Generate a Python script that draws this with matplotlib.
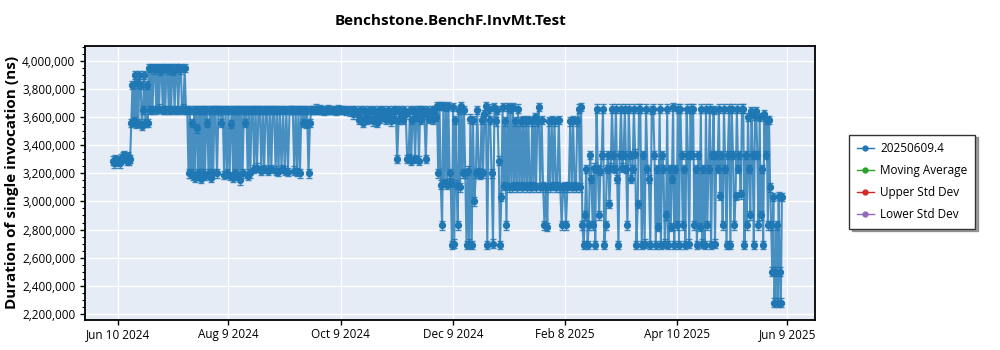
import matplotlib
matplotlib.use("Agg")
import matplotlib.pyplot as plt
import matplotlib.ticker as mticker
from matplotlib.lines import Line2D
import pandas as pd

plt.rcParams['font.family'] = ['Open Sans', 'DejaVu Sans']

title = "Benchstone.BenchF.InvMt.Test"
ylabel = "Duration of single invocation (ns)"
series_names = ["20250609.4", "Moving Average", "Upper Std Dev", "Lower Std Dev"]
series_colors = ["#1f77b4", "#2ca02c", "#d62728", "#9467bd"]
first_week = "2024-06-07"
err_ns = 30000
x_ticks = ["2024-06-10", "2024-08-09", "2024-10-09", "2024-12-09",
           "2025-02-08", "2025-04-10", "2025-06-09"]
x_tick_labels = ["Jun 10 2024", "Aug 9 2024", "Oct 9 2024", "Dec 9 2024",
                 "Feb 8 2025", "Apr 10 2025", "Jun 9 2025"]
y_ticks = [2200000, 2400000, 2600000, 2800000, 3000000, 3200000,
           3400000, 3600000, 3800000, 4000000]

# values in thousands of ns, one list per week starting at first_week
weekly_values_k = [
    [3290, 3270, 3300, 3280, 3290, 3270, 3310, 3320, 3330],
    [3300, 3290, 3320, 3290, 3300, 3560, 3830, 3570, 3900, 3550, 3840],
    [3560, 3900, 3830, 3540, 3650, 3900, 3560, 3830, 3560, 3950, 3650],
    [3950, 3650, 3940, 3950, 3650, 3950, 3660, 3930, 3950, 3650],
    [3950, 3650, 3950, 3940, 3650, 3950, 3650, 3950, 3930, 3650, 3950],
    [3950, 3650, 3940, 3950, 3650, 3660, 3950, 3650, 3650, 3200],
    [3650, 3200, 3560, 3180, 3650, 3170, 3650, 3520, 3200, 3650, 3160, 3650],
    [3200, 3650, 3180, 3650, 3560, 3200, 3650, 3170, 3650, 3200, 3650],
    [3650, 3200, 3650, 3650, 3560, 3650, 3190, 3650, 3200],
    [3650, 3180, 3550, 3650, 3170, 3650, 3200, 3650, 3180, 3650, 3150],
    [3650, 3200, 3650, 3560, 3650, 3180, 3650, 3200, 3650, 3650],
    [3230, 3650, 3240, 3650, 3650, 3220, 3650, 3230, 3650],
    [3650, 3220, 3650, 3230, 3650, 3650, 3220, 3650, 3210],
    [3650, 3230, 3650, 3220, 3650, 3210, 3650, 3650],
    [3650, 3220, 3650, 3210, 3650, 3200, 3650, 3560, 3650],
    [3550, 3650, 3200, 3560, 3650, 3650, 3650, 3660, 3650],
    [3650, 3655, 3650, 3645, 3650, 3655, 3650],
    [3650, 3650, 3645, 3655, 3650, 3650],
    [3650, 3645, 3650, 3640, 3650, 3620, 3650],
    [3620, 3580, 3650, 3590, 3560, 3650, 3600, 3580, 3650],
    [3640, 3590, 3570, 3650, 3600, 3560, 3650, 3590, 3640],
    [3650, 3600, 3580, 3650, 3620, 3570, 3650, 3590],
    [3650, 3300, 3580, 3650, 3600, 3580, 3650, 3620, 3300],
    [3310, 3650, 3290, 3580, 3650, 3300, 3600, 3650, 3290, 3650],
    [3580, 3650, 3620, 3300, 3650, 3590, 3600, 3650, 3580],
    [3650, 3600, 3680, 3200, 3680, 3120, 2830, 3680, 3130, 3670],
    [3120, 3680, 3200, 3130, 2690, 3670, 2700, 3580, 3120, 2830, 3650],
    [3100, 3680, 3200, 3650, 3200, 2690, 3220, 2700, 3590, 2690],
    [3580, 3000, 3200, 3650, 3210, 3190, 3580, 3200, 3620],
    [3680, 2690, 3660, 3580, 3200, 2700, 3670, 3570, 3650],
    [3290, 2690, 3030, 3670, 3110, 3570, 2830, 3670, 3100, 3660],
    [3100, 3670, 3110, 3570, 3100, 3660, 3110, 3570, 3100, 3580],
    [3110, 3570, 3100, 3580, 3110, 3100, 3570, 3110, 3600, 3100],
    [3570, 3670, 3100, 3580, 3110, 2830, 3100, 2820, 3570],
    [3100, 3580, 3110, 3570, 3100, 3110, 3580, 3100, 2830],
    [3100, 3110, 2830, 3100, 3110, 3570, 3100, 3580, 3110],
    [3100, 3570, 3660, 3100, 3670, 2830, 2690, 2900, 3230, 2690],
    [2830, 3330, 3160, 2830, 3240, 2690, 3660, 3230, 2900, 3220],
    [3330, 3660, 2690, 2830, 3230, 3330, 2980, 3240, 3660, 3330],
    [3230, 3660, 3160, 2690, 3330, 3660, 3240, 3330, 3660, 3230],
    [2830, 3660, 3330, 3160, 3230, 3660, 3340, 2690, 2980, 3660],
    [3660, 2690, 3330, 2700, 3660, 3230, 3160, 2690, 3650],
    [3660, 3330, 2690, 3230, 2820, 3660, 2690, 3330, 3230, 2700],
    [2900, 3660, 2690, 3230, 2820, 3160, 3670, 2690, 3230, 2830, 3660],
    [2690, 3660, 3330, 2830, 3230, 2690, 3660, 3330, 2700, 3660],
    [3330, 3660, 2830, 3230, 2690, 3330, 2820, 3660, 2700, 3230],
    [2690, 3660, 2830, 3230, 3660, 2690, 3330, 3650, 2700, 3330],
    [3230, 3660, 3040, 3330, 2830, 3660, 3230, 2690, 3330, 3660],
    [2690, 3660, 3330, 2830, 3040, 3660, 3230, 3330, 3050, 3660],
    [3660, 2690, 3330, 2830, 3600, 3230, 2900, 3640, 3330, 2690, 3610],
    [3640, 3330, 2830, 3600, 2900, 3230, 2690, 3620, 3330, 3580, 2830],
    [3580, 3100, 2830, 2500, 3030, 2280, 2500, 2830, 2280, 3040, 2500, 2280],
    [3030],
]

xs, ys = [], []
start = pd.Timestamp(first_week)
for w, vals in enumerate(weekly_values_k):
    n = len(vals)
    for i, v in enumerate(vals):
        xs.append(start + pd.Timedelta(days=7 * w + 7 * i / n))
        ys.append(v * 1000)

fig = plt.figure(figsize=(10, 3.5), dpi=100)
ax = fig.add_axes([0.085, 0.086, 0.730, 0.783])
ax.set_facecolor("#E5ECF6")

c = series_colors[0]
ax.errorbar(xs, ys, yerr=err_ns, fmt='none', ecolor=c, elinewidth=1.0,
            capsize=2.5, capthick=1.0, alpha=0.85, zorder=2)
ax.plot(xs, ys, '-', color=c, lw=1.5, alpha=0.8, zorder=3)
ax.plot(xs, ys, 'o', color=c, ms=4.2, zorder=4)

ax.set_xlim(pd.Timestamp("2024-05-23"), pd.Timestamp("2025-06-24"))
ax.set_ylim(2157000, 4107000)
ax.set_xticks([pd.Timestamp(t) for t in x_ticks])
ax.set_xticklabels(x_tick_labels)
ax.set_yticks(y_ticks)
ax.yaxis.set_major_formatter(mticker.FuncFormatter(lambda v, p: f"{int(v):,}"))
ax.yaxis.set_minor_locator(mticker.MultipleLocator(50000))
ax.tick_params(axis='both', labelsize=8.5, length=3.5, width=1, color='black')
ax.tick_params(axis='x', pad=2.5)
ax.tick_params(axis='y', which='minor', length=2, width=0.8)
ax.grid(True, which='major', color='white', lw=1.0)
ax.set_axisbelow(True)
for s in ax.spines.values():
    s.set_color('black')
    s.set_linewidth(1.3)

ax.set_title(title, fontsize=11, fontweight='bold', pad=15)
ax.set_ylabel(ylabel, fontsize=11, fontweight='bold', labelpad=2)

handles = [Line2D([0], [0], color=col, lw=1.0, marker='o', ms=3.5)
           for col in series_colors]
leg = fig.legend(handles, series_names, loc='upper left',
                 bbox_to_anchor=(0.843, 0.632), fontsize=8.5, frameon=True,
                 fancybox=False, shadow=True, borderpad=0.65, labelspacing=0.75,
                 handlelength=1.5, handletextpad=0.5)
leg.get_frame().set_edgecolor('#333333')
leg.get_frame().set_linewidth(1.0)

fig.savefig("out.png", dpi=100)
